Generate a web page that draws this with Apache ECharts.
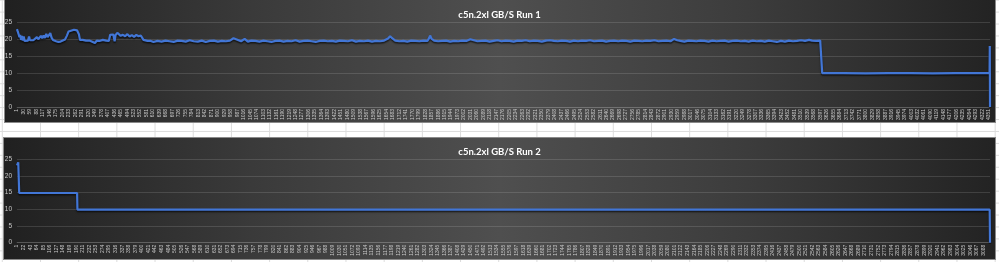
<!DOCTYPE html>
<html>
<head>
<meta charset="utf-8">
<script src="https://cdn.jsdelivr.net/npm/echarts@6/dist/echarts.min.js"></script>
<style>
  html, body { margin: 0; padding: 0; }
  body {
    width: 999px; height: 262px; overflow: hidden; position: relative;
    background-color: #ffffff;
    background-image:
      linear-gradient(to right, #dcdcdc 1px, transparent 1px),
      linear-gradient(to bottom, #dcdcdc 1px, transparent 1px);
    background-size: 38.2px 100%, 100% 11.94px;
    background-position: 1.8px 0, 0 11.6px;
  }
  .panel {
    position: absolute; box-sizing: border-box; border: 1px solid #8a8a8a;
    background: linear-gradient(to right, #202020 0%, #3a3a3a 25%, #4f4f4f 50%, #3c3c3c 75%, #232323 100%);
  }
  #p1 { left: 4px; top: -4px; width: 992px; height: 127px; }
  #p2 { left: 3px; top: 137px; width: 993px; height: 123px; }
  #chart { position: absolute; left: 0; top: 0; width: 999px; height: 262px; }
</style>
</head>
<body>
<div class="panel" id="p1"></div>
<div class="panel" id="p2"></div>
<div id="chart"></div>
<script>
// ---------- data ----------
const title1 = 'c5n.2xl GB/S Run 1';
const title2 = 'c5n.2xl GB/S Run 2';
const yTicks = [0, 5, 10, 15, 20, 25];

// Run 1: [sample index, GB/s]
const run1 = [
  [1,23.0],[4,22.3],[8,21.5],[12,20.6],[15,21.3],[19,19.8],[23,21.0],[27,19.6],[31,20.8],[35,19.5],
  [42,19.4],[50,19.6],[55,20.8],[59,19.7],[66,19.6],[74,19.7],[82,20.2],[90,20.6],[96,20.0],[102,20.5],
  [108,21.0],[114,20.3],[120,21.1],[126,20.4],[132,21.6],[138,20.6],[144,21.2],[150,21.8],[156,20.4],[162,19.8],
  [168,19.3],[176,19.4],[186,19.2],[196,19.3],[206,19.6],[216,19.9],[224,21.0],[232,22.3],[240,22.8],[256,22.8],
  [270,22.6],[278,21.5],[283,19.8],[295,19.8],[310,19.6],[325,19.6],[340,19.2],[350,18.9],[358,19.6],[370,19.5],
  [385,19.8],[400,19.6],[412,19.5],[418,21.3],[425,21.5],[432,21.4],[438,19.4],[442,21.2],[450,21.9],[456,21.6],
  [465,21.0],[475,21.3],[485,20.9],[495,21.5],[505,20.8],[515,21.2],[525,20.7],[535,21.3],[545,20.9],[555,21.1],
  [562,20.8],[567,19.8],[575,20.1],[585,19.5],[600,19.5],[612,19.2],[630,19.5],[648,19.3],[666,19.6],[684,19.4],
  [702,19.2],[720,19.6],[738,19.5],[756,19.3],[774,19.7],[792,19.4],[810,19.3],[828,19.6],[846,19.2],[864,19.5],
  [882,19.6],[900,19.3],[918,19.5],[936,19.4],[954,19.6],[970,20.3],[978,20.4],[990,19.8],[1004,19.4],[1020,20.1],
  [1034,19.3],[1050,19.6],[1068,19.5],[1086,19.3],[1104,19.6],[1122,19.4],[1140,19.2],[1158,19.5],[1176,19.6],[1194,19.3],
  [1212,19.5],[1230,19.4],[1248,19.7],[1266,19.3],[1284,19.5],[1302,19.6],[1320,19.4],[1338,19.2],[1356,19.5],[1374,19.6],
  [1392,19.4],[1410,19.5],[1428,19.3],[1446,19.6],[1464,19.5],[1482,19.4],[1500,19.7],[1518,19.3],[1536,19.5],[1554,19.4],
  [1572,19.6],[1590,19.3],[1608,19.5],[1626,19.4],[1644,19.6],[1662,20.2],[1671,20.9],[1680,20.3],[1694,19.6],[1712,19.4],
  [1730,19.5],[1748,19.3],[1766,19.6],[1784,19.5],[1802,19.4],[1820,19.6],[1838,19.5],[1846,20.4],[1850,21.1],[1856,20.2],
  [1868,19.6],[1886,19.4],[1904,19.5],[1922,19.6],[1940,19.3],[1958,19.5],[1976,19.4],[1994,19.6],[2012,19.5],[2030,20.0],
  [2037,20.4],[2046,19.7],[2062,19.4],[2080,19.5],[2098,19.6],[2116,19.3],[2134,19.5],[2152,19.7],[2170,19.4],[2188,19.6],
  [2206,19.5],[2224,19.3],[2242,19.6],[2260,19.5],[2278,19.7],[2296,19.4],[2314,19.6],[2332,19.5],[2350,19.3],[2368,19.6],
  [2386,19.7],[2404,19.5],[2422,19.4],[2440,19.6],[2458,19.5],[2476,19.3],[2494,19.6],[2512,19.4],[2530,19.6],[2548,19.5],
  [2566,19.7],[2584,19.4],[2602,19.5],[2620,19.6],[2638,19.3],[2656,19.5],[2674,19.6],[2692,19.4],[2710,19.6],[2728,19.5],
  [2746,19.3],[2764,19.6],[2782,19.5],[2800,19.4],[2818,19.6],[2836,19.5],[2854,19.7],[2872,19.4],[2890,19.5],[2908,19.6],
  [2926,19.4],[2942,20.1],[2948,20.3],[2956,19.7],[2970,19.5],[2988,19.3],[3006,19.6],[3024,19.5],[3042,19.4],[3060,19.6],
  [3078,19.5],[3096,19.3],[3114,19.6],[3132,19.4],[3150,19.5],[3168,19.6],[3186,19.3],[3204,19.5],[3222,19.6],[3240,19.4],
  [3258,19.5],[3276,19.3],[3294,19.6],[3312,19.4],[3330,19.5],[3348,19.3],[3366,19.6],[3384,19.4],[3402,19.2],[3420,19.5],
  [3438,19.3],[3456,19.6],[3474,19.4],[3492,19.5],[3510,19.7],[3528,19.5],[3546,19.8],[3552,20.1],[3560,19.6],[3578,19.5],
  [3596,19.6],[3603,19.6],[3605,10.0],[3700,10.0],[3800,9.9],[3900,10.0],[4000,10.0],[4100,9.9],[4200,10.0],[4300,10.0],
  [4354,10.0],[4355,18.0],[4356,0]
];

// Run 2: [sample index, GB/s]
const run2 = [
  [1,23.2],[3,23.6],[5,24.1],[7,24.0],[8,14.9],[60,14.9],[120,14.9],[193,14.9],[194,9.9],[500,9.9],
  [1000,9.9],[1500,9.9],[2000,9.9],[2500,9.9],[3000,9.9],[3108,9.9],[3109,0]
];

const run1Last = 4356;
const run2Last = 3109;
const run1Step = 29;
const run2Step = 21;

// ---------- chart ----------
const chart = echarts.init(document.getElementById('chart'), null, { renderer: 'canvas' });

const lineColor = '#4276d6';
const gridLineColor = 'rgba(255,255,255,0.13)';
const labelColor = '#c8c8c8';

function xAxisFor(gridIndex, max, step) {
  return {
    type: 'value', gridIndex, min: 1, max, interval: step,
    axisLine: { show: true, lineStyle: { color: gridLineColor, width: 1 } },
    axisTick: { show: false },
    splitLine: { show: false },
    axisLabel: {
      rotate: 90, fontSize: 5, color: labelColor, margin: 2,
      fontFamily: 'Liberation Sans, Arial, sans-serif',
      showMaxLabel: false, showMinLabel: true, hideOverlap: false,
      formatter: v => String(v)
    }
  };
}
function yAxisFor(gridIndex) {
  return {
    type: 'value', gridIndex, min: yTicks[0], max: yTicks[yTicks.length - 1], interval: 5,
    axisLine: { show: false }, axisTick: { show: false },
    splitLine: { show: true, lineStyle: { color: gridLineColor, width: 1 } },
    axisLabel: { fontSize: 6.5, color: labelColor, margin: 5, fontFamily: 'Liberation Sans, Arial, sans-serif' }
  };
}
function lineSeries(i, data) {
  return {
    type: 'line', xAxisIndex: i, yAxisIndex: i, data,
    showSymbol: false, symbol: 'none', animation: false,
    lineStyle: { color: lineColor, width: 2.2, shadowColor: 'rgba(0,0,0,0.65)', shadowBlur: 1.5, shadowOffsetY: 1.5 }
  };
}

chart.setOption({
  animation: false,
  backgroundColor: 'transparent',
  title: [
    { text: title1, left: 'center', top: 5, textStyle: { color: '#ffffff', fontSize: 9.5, fontWeight: 'bold', fontFamily: 'Lato, Open Sans, sans-serif' } },
    { text: title2, left: 'center', top: 141.5, textStyle: { color: '#ffffff', fontSize: 9.5, fontWeight: 'bold', fontFamily: 'Lato, Open Sans, sans-serif' } }
  ],
  grid: [
    { left: 17, right: 9, top: 22.3, height: 84.7 },
    { left: 17, right: 9, top: 159.3, height: 83.4 }
  ],
  xAxis: [ xAxisFor(0, run1Last, run1Step), xAxisFor(1, run2Last, run2Step) ],
  yAxis: [ yAxisFor(0), yAxisFor(1) ],
  series: [ lineSeries(0, run1), lineSeries(1, run2) ]
});
</script>
</body>
</html>
